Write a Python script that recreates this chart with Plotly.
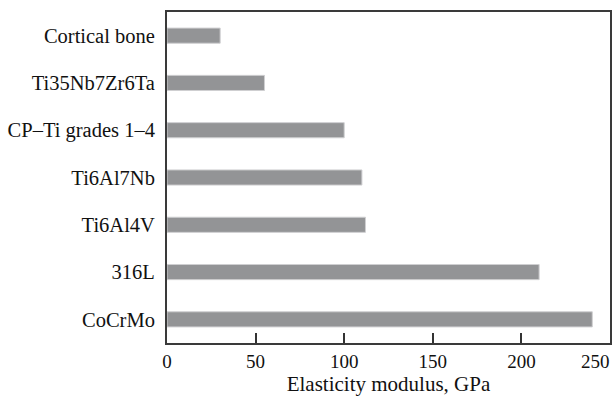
import plotly.graph_objects as go

materials = ["CoCrMo", "316L", "Ti6Al4V", "Ti6Al7Nb", "CP\u2013Ti grades 1\u20134", "Ti35Nb7Zr6Ta", "Cortical bone"]
modulus_gpa = [240, 210, 112, 110, 100, 55, 30]
x_ticks = [0, 50, 100, 150, 200, 250]
x_tick_text = ["0", "50", "100", "150", "200", ""]
last_tick_label = "250"

fig = go.Figure(go.Bar(
    x=modulus_gpa, y=materials, orientation="h", width=0.32,
    marker=dict(color="#939496", line=dict(color="#cfcfd1", width=1)),
))

font_family = "Liberation Serif, Times New Roman, serif"
fig.update_layout(
    width=614, height=396,
    margin=dict(l=167, r=4, t=12, b=53),
    paper_bgcolor="white", plot_bgcolor="white",
    showlegend=False,
    font=dict(family=font_family, color="#111111"),
    xaxis=dict(
        range=[0, 250], tickvals=x_ticks, ticktext=x_tick_text, ticks="inside", ticklen=10, tickwidth=1.5,
        tickcolor="#333333", showgrid=False, zeroline=False, automargin=False,
        showline=True, linecolor="#3a3a3a", linewidth=2, mirror=True,
        tickfont=dict(size=19, family=font_family),
        title=dict(text="Elasticity modulus, GPa", font=dict(size=21, family=font_family), standoff=8),
    ),
    yaxis=dict(
        categoryorder="array", categoryarray=materials, range=[-0.5, 6.5],
        showgrid=False, zeroline=False, ticks="", automargin=False,
        showline=True, linecolor="#3a3a3a", linewidth=2, mirror=True,
        tickfont=dict(size=20.5, family=font_family), ticklabelstandoff=6,
    ),
    annotations=[dict(
        text=last_tick_label, xref="paper", yref="paper", x=1.005, y=0,
        xanchor="right", yanchor="top", yshift=-6, showarrow=False,
        font=dict(size=19, family=font_family, color="#111111"),
    )],
)

fig.write_html(
    "out.html",
    config={"displayModeBar": False},
    post_script="document.body.style.margin='0';document.body.style.overflow='hidden';",
)
